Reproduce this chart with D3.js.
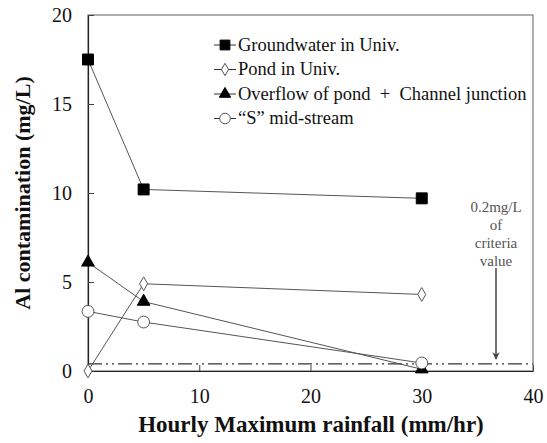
<!DOCTYPE html>
<html><head><meta charset="utf-8">
<script src="https://cdn.jsdelivr.net/npm/d3@7"></script>
</head><body style="margin:0;background:#fff">
<script>
const rainfall = [0, 5, 30];
const groundwater = [17.5, 10.2, 9.7];
const pond = [0.0, 4.9, 4.3];
const overflow = [6.1, 3.9, 0.1];
const midstream = [3.35, 2.75, 0.45];
const criteria = 0.4;
const seriesNames = ["Groundwater in Univ.", "Pond in Univ.", "Overflow of pond  +  Channel junction", "\u201cS\u201d mid-stream"];
const xTicks = [0, 10, 20, 30, 40];
const yTicks = [0, 5, 10, 15, 20];

const FONT = '"Liberation Serif"';
const W = 547, H = 443;
const m = {l: 88, r: 14, t: 15, b: 72};
const svg = d3.select("body").append("svg").attr("width", W).attr("height", H).style("display", "block");
const x = d3.scaleLinear().domain([0, 40]).range([m.l, W - m.r]);
const y = d3.scaleLinear().domain([0, 20]).range([H - m.b, m.t]);

// frame
svg.append("rect").attr("x", x(0)).attr("y", y(20)).attr("width", x(40) - x(0)).attr("height", y(0) - y(20))
  .attr("fill", "none").attr("stroke", "#777").attr("stroke-width", 1.2);

const xa = svg.append("g").attr("transform", `translate(0,${y(0)})`)
  .call(d3.axisBottom(x).tickValues(xTicks).tickSizeInner(-6).tickSizeOuter(0).tickPadding(18));
const ya = svg.append("g").attr("transform", `translate(${x(0)},0)`)
  .call(d3.axisLeft(y).tickValues(yTicks).tickSizeInner(-6).tickSizeOuter(0).tickPadding(16));
[xa, ya].forEach(a => {
  a.selectAll("path").attr("stroke", "#222").attr("stroke-width", 1.2);
  a.selectAll("line").attr("stroke", "#444");
  a.selectAll("text").style("font-family", FONT).style("font-size", "20px").attr("fill", "#111");
});

// criteria line
svg.append("line").attr("x1", x(0)).attr("x2", x(40)).attr("y1", y(criteria)).attr("y2", y(criteria))
  .attr("stroke", "#333").attr("stroke-width", 1.2).attr("stroke-dasharray", "14,4,2,4,2,4");

// annotation
const ann = ["0.2mg/L", "of", "criteria", "value"];
const ax = 496;
svg.append("g").selectAll("text").data(ann).join("text")
  .attr("x", ax).attr("y", (d, i) => 212 + i * 18).attr("text-anchor", "middle")
  .style("font-family", FONT).style("font-size", "15px").attr("fill", "#555").text(d => d);
svg.append("defs").append("marker").attr("id", "arr").attr("viewBox", "0 0 10 10").attr("refX", 9).attr("refY", 5)
  .attr("markerWidth", 5).attr("markerHeight", 5).attr("orient", "auto")
  .append("path").attr("d", "M0,0 L10,5 L0,10 L3,5 z").attr("fill", "#444");
svg.append("line").attr("x1", ax).attr("x2", ax).attr("y1", 268).attr("y2", 359)
  .attr("stroke", "#444").attr("stroke-width", 1.5).attr("marker-end", "url(#arr)");

const sym = [
  {type: d3.symbolSquare, size: 120, fill: "#000"},
  {type: d3.symbolDiamond, size: 55, fill: "#fff"},
  {type: d3.symbolTriangle, size: 70, fill: "#000"},
  {type: d3.symbolCircle, size: 110, fill: "#fff"}
];
const data = [groundwater, pond, overflow, midstream];
const line = d3.line().x((d, i) => x(rainfall[i])).y(d => y(d));
data.forEach((vals, k) => {
  svg.append("path").attr("d", line(vals)).attr("fill", "none").attr("stroke", "#555").attr("stroke-width", 1);
  svg.append("g").selectAll("path").data(vals).join("path")
    .attr("transform", (d, i) => `translate(${x(rainfall[i])},${y(d)})`)
    .attr("d", d3.symbol().type(sym[k].type).size(sym[k].size)())
    .attr("fill", sym[k].fill).attr("stroke", k % 2 ? "#555" : "#000").attr("stroke-width", 1);
});

// legend
const lg = svg.append("g");
seriesNames.forEach((n, k) => {
  const yy = 45 + k * 24.5;
  lg.append("line").attr("x1", 214).attr("x2", 236).attr("y1", yy).attr("y2", yy).attr("stroke", "#333").attr("stroke-width", 1);
  lg.append("path").attr("transform", `translate(225,${yy})`)
    .attr("d", d3.symbol().type(sym[k].type).size(sym[k].size * 0.8)())
    .attr("fill", sym[k].fill).attr("stroke", k % 2 ? "#555" : "#000");
  lg.append("text").attr("x", 238).attr("y", yy + 5.5).style("font-family", FONT).style("font-size", "18.5px").attr("fill", "#111")
    .style("white-space", "pre").text(n);
});

// axis titles
svg.append("text").attr("x", 311).attr("y", 432).attr("text-anchor", "middle").style("font-family", FONT).style("font-size", "23px")
  .attr("font-weight", "bold").attr("fill", "#111").text("Hourly Maximum rainfall (mm/hr)");
svg.append("text").attr("transform", `translate(30,${(y(0) + y(20)) / 2}) rotate(-90)`).attr("text-anchor", "middle")
  .style("font-family", FONT).style("font-size", "22px").attr("font-weight", "bold").attr("fill", "#111").text("Al contamination (mg/L)");
</script>
</body></html>
